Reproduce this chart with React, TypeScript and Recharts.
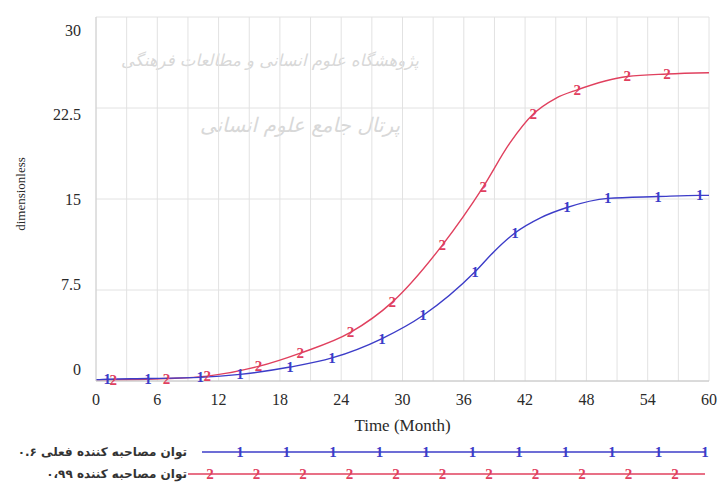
import React from "react";
import { LineChart, Line, XAxis, YAxis, CartesianGrid, Label } from "recharts";

// Series 1 (blue): current interviewer ability 0.6
const blueTime = [0, 1.1, 5.1, 10.2, 14.1, 19.0, 23.1, 28.0, 32.0, 37.1, 39.0, 41.0, 43.5, 46.1, 50.1, 55.0, 59.1, 60];
const blueValue = [0.1, 0.15, 0.2, 0.3, 0.55, 1.15, 1.9, 3.5, 5.4, 9.0, 10.7, 12.2, 13.45, 14.3, 15.05, 15.2, 15.3, 15.3];
const blueMarked = [false, true, true, true, true, true, true, true, true, true, false, true, false, true, true, true, true, false];

// Series 2 (red): interviewer ability 0.99
const redTime = [0, 1.7, 6.9, 10.9, 15.9, 20.0, 24.9, 29.0, 33.9, 37.9, 40.5, 42.8, 45.0, 47.1, 52.0, 55.9, 60];
const redValue = [0.1, 0.1, 0.2, 0.4, 1.2, 2.3, 4.0, 6.5, 11.2, 16.0, 19.6, 22.0, 23.3, 24.0, 25.1, 25.3, 25.4];
const redMarked = [false, true, true, true, true, true, true, true, true, true, false, true, false, true, true, true, false];

const xTicks = [0, 3, 6, 9, 12, 15, 18, 21, 24, 27, 30, 33, 36, 39, 42, 45, 48, 51, 54, 57, 60];
const yTicks = [0, 7.5, 15, 22.5, 30];

const seriesNames = ["توان مصاحبه کننده فعلی ۰.۶", "توان مصاحبه کننده ۰،۹۹"];
const markerGlyphs = ["1", "2"];
const xLabel = "Time (Month)";
const yLabel = "dimensionless";
const watermark = ["پژوهشگاه علوم انسانی و مطالعات فرهنگی", "پرتال جامع علوم انسانی"];

const BLUE = "#3c3cc8";
const RED = "#e0405e";
const SERIF = "'Liberation Serif', 'DejaVu Serif', serif";
const ARABIC = "'DejaVu Sans', sans-serif";

const blueData = blueTime.map((t, i) => ({ t, v: blueValue[i], m: blueMarked[i] }));
const redData = redTime.map((t, i) => ({ t, v: redValue[i], m: redMarked[i] }));

const makeDot = (glyph: string, color: string) => (props: any) => {
  const { cx, cy, payload, index } = props;
  if (!payload || !payload.m) return <g key={`d-${glyph}-${index}`} />;
  return (
    <text
      key={`d-${glyph}-${index}`}
      x={cx}
      y={cy}
      textAnchor="middle"
      dominantBaseline="central"
      fontFamily={SERIF}
      fontSize={15}
      fontWeight="bold"
      fill={color}
    >
      {glyph}
    </text>
  );
};

const XTick = (props: any) => {
  const { x, y, payload } = props;
  const v = payload.value;
  if (v % 6 !== 0) return <g />;
  return (
    <text x={x} y={y} textAnchor="middle" dominantBaseline="central" fontFamily={SERIF} fontSize={16} fill="#2a2a2a">
      {String(v)}
    </text>
  );
};

const YTick = (props: any) => {
  const { x, y, payload } = props;
  const v = payload.value;
  const dy = 13 - ((30 - v) * 25) / 30;
  return (
    <text x={x} y={y + dy} textAnchor="end" dominantBaseline="central" fontFamily={SERIF} fontSize={16} fill="#2a2a2a">
      {String(v)}
    </text>
  );
};

const LegendRow = ({ y, name, color, glyph, lineStart, firstMark }: any) => {
  const marks = Array.from({ length: 11 }, (_, i) => firstMark + i * 46.5);
  return (
    <g>
      <text x={187} y={y} textAnchor="start" dominantBaseline="central" direction="rtl" fontFamily={ARABIC} fontSize={12} fontWeight="bold" fill="#333">
        {name}
      </text>
      <line x1={lineStart} x2={705} y1={y} y2={y} stroke={color} strokeWidth={1.3} />
      {marks.map((mx, i) => (
        <text key={i} x={mx} y={y} textAnchor="middle" dominantBaseline="central" fontFamily={SERIF} fontSize={15} fontWeight="bold" fill={color}>
          {glyph}
        </text>
      ))}
    </g>
  );
};

export default function App() {
  return (
    <div style={{ position: "absolute", left: 0, top: 0, width: 719, height: 484, background: "#fff" }}>
      <svg width={719} height={484} style={{ position: "absolute", left: 0, top: 0 }}>
        <text x={270} y={60} textAnchor="middle" dominantBaseline="central" direction="rtl" fontFamily={ARABIC} fontSize={16.5} fontStyle="italic" fill="#d8d8d8">
          {watermark[0]}
        </text>
        <text x={300} y={125} textAnchor="middle" dominantBaseline="central" direction="rtl" fontFamily={ARABIC} fontSize={20} fontStyle="italic" fill="#d8d8d8">
          {watermark[1]}
        </text>
      </svg>
      <div style={{ position: "absolute", left: 0, top: 0 }}>
        <LineChart width={719} height={484} margin={{ top: 17, right: 10, bottom: 53, left: 0 }}>
          <CartesianGrid stroke="#e2e2e2" strokeWidth={1} />
          <XAxis
            dataKey="t"
            type="number"
            domain={[0, 60]}
            ticks={xTicks}
            interval={0}
            tick={<XTick />}
            tickSize={0}
            tickMargin={18}
            height={50}
            stroke="#c4c4c4"
            allowDuplicatedCategory={false}
          >
            <Label
              content={(p: any) => {
                const vb = p.viewBox || {};
                return (
                  <text x={vb.x + vb.width / 2} y={vb.y + 44} textAnchor="middle" dominantBaseline="central" fontFamily={SERIF} fontSize={17} fill="#2a2a2a">
                    {xLabel}
                  </text>
                );
              }}
            />
          </XAxis>
          <YAxis
            type="number"
            domain={[0, 30]}
            ticks={yTicks}
            interval={0}
            tick={<YTick />}
            tickSize={0}
            tickMargin={15}
            width={96}
            stroke="#d0d0d0"
          >
            <Label
              content={(p: any) => {
                const vb = p.viewBox || {};
                const cx = 20;
                const cy = vb.y + vb.height / 2 - 5;
                return (
                  <text x={cx} y={cy} transform={`rotate(-90 ${cx} ${cy})`} textAnchor="middle" dominantBaseline="central" fontFamily={SERIF} fontSize={13} fill="#2a2a2a">
                    {yLabel}
                  </text>
                );
              }}
            />
          </YAxis>
          <Line
            data={redData}
            dataKey="v"
            type="monotone"
            stroke={RED}
            strokeWidth={1.4}
            dot={makeDot(markerGlyphs[1], RED)}
            activeDot={false}
            isAnimationActive={false}
          />
          <Line
            data={blueData}
            dataKey="v"
            type="monotone"
            stroke={BLUE}
            strokeWidth={1.4}
            dot={makeDot(markerGlyphs[0], BLUE)}
            activeDot={false}
            isAnimationActive={false}
          />
        </LineChart>
      </div>
      <svg width={719} height={484} style={{ position: "absolute", left: 0, top: 0, pointerEvents: "none" }}>
        <LegendRow y={452} name={seriesNames[0]} color={BLUE} glyph={markerGlyphs[0]} lineStart={202} firstMark={240} />
        <LegendRow y={474} name={seriesNames[1]} color={RED} glyph={markerGlyphs[1]} lineStart={188} firstMark={210} />
      </svg>
    </div>
  );
}
